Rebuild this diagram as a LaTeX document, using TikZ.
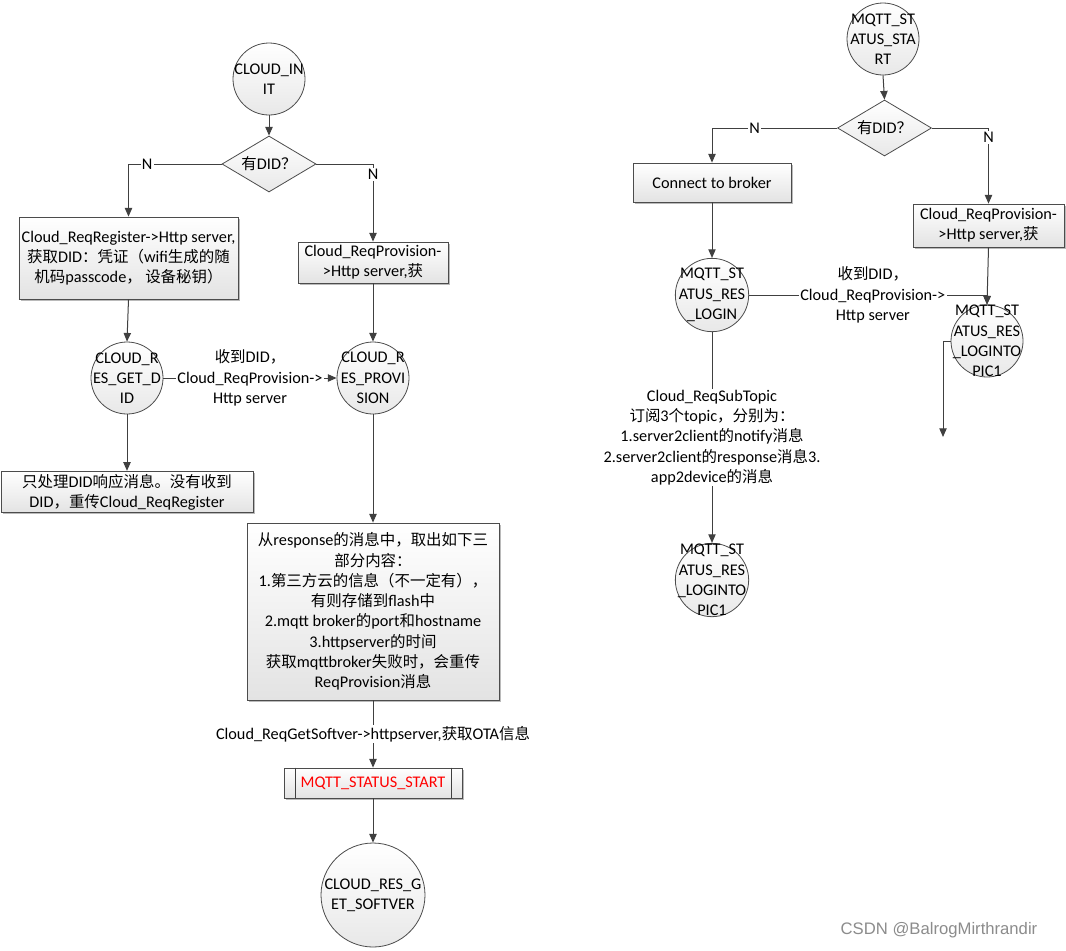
\documentclass[tikz,border=0pt]{standalone}
\usepackage{fontspec}
\setmainfont{Carlito}
\newfontfamily\cjk{Noto Sans CJK SC}[Scale=0.95]
\newfontfamily\wmfont{Liberation Sans}
\usetikzlibrary{arrows.meta,shapes.geometric,shadows,calc}
\newcommand\zh[1]{{\cjk #1}}
\definecolor{lncol}{HTML}{404040}
\tikzset{
  txt/.style={font=\fontsize{12.2}{15.2}\selectfont, align=center, text=black},
  ln/.style={draw=lncol, line width=0.75pt},
  arr/.style={ln, -{Triangle[length=6.5pt,width=5.5pt]}},
  stnode/.style={circle, draw=black!70, line width=0.6pt, top color=white, bottom color=black!9, inner sep=0pt, minimum size=#1},
  boxnode/.style={rectangle, draw=black!70, line width=0.6pt, top color=white, bottom color=black!11,
     drop shadow={shadow xshift=1.2pt, shadow yshift=-1.2pt, fill=black!45, opacity=0.6},
     inner sep=2pt, txt},
  decnode/.style={diamond, draw=black!70, line width=0.6pt, top color=white, bottom color=black!9, inner sep=0pt, minimum width=70.5pt, minimum height=42pt},
  lbl/.style={txt, fill=white, inner sep=1pt},
  inlbl/.style={txt, inner sep=0pt}
}
\begin{document}
\begin{tikzpicture}[x=0.75pt,y=-0.75pt]
\path[use as bounding box, fill=white] (0,0) rectangle (1066,950);

% ---------------- left chart ----------------
\node[stnode=54pt, label={[inlbl]center:CLOUD\_IN\\IT}] (init) at (269,79) {};
\node[decnode, label={[inlbl]center:\zh{有}DID\zh{？}}] (d1) at (269,164) {};
\node[boxnode, minimum width=164.25pt, minimum height=61.5pt] (reg) at (128.5,258)
  {Cloud\_ReqRegister->Http server,\\\zh{获取}DID\zh{：凭证（}wifi\zh{生成的随}\\\zh{机码}passcode\zh{，\ 设备秘钥）}};
\node[boxnode, minimum width=112.5pt, minimum height=30.75pt] (prov1) at (373,262.5)
  {Cloud\_ReqProvision-\\>Http server,\zh{获}};
\node[stnode=54pt, label={[inlbl]center:CLOUD\_R\\ES\_GET\_D\\ID}] (getdid) at (127,378) {};
\node[stnode=54pt, label={[inlbl]center:CLOUD\_R\\ES\_PROVI\\SION}] (resprov) at (373,378) {};
\node[boxnode, minimum width=189pt, minimum height=30pt] (retry) at (127,492)
  {\zh{只处理}DID\zh{响应消息。没有收到}\\DID\zh{，重传}Cloud\_ReqRegister};
\node[boxnode, minimum width=189pt, minimum height=132.75pt] (resp) at (373,611.5)
  {\zh{从}response\zh{的消息中，取出如下三}\\\zh{部分内容：}\\1.\zh{第三方云的信息（不一定有），}\\\zh{有则存储到}flash\zh{中}\\2.mqtt broker\zh{的}port\zh{和}hostname\\3.httpserver\zh{的时间}\\\zh{获取}mqttbroker\zh{失败时，会重传}\\ReqProvision\zh{消息}};
\node[boxnode, minimum width=133.5pt, minimum height=22.5pt, text=red] (mqs) at (373,783) {MQTT\_STATUS\_START};
\draw[ln, line width=0.6pt] ($(mqs.north west)+(12,0)$) -- ($(mqs.south west)+(12,0)$);
\draw[ln, line width=0.6pt] ($(mqs.north east)+(-11,0)$) -- ($(mqs.south east)+(-11,0)$);
\node[stnode=78pt, label={[inlbl]center:CLOUD\_RES\_G\\ET\_SOFTVER}] (softver) at (373,895) {};

\draw[arr] (init.south) -- (d1.north);
\draw[arr] (d1.west) -| node[pos=0.4, lbl]{N} (reg.north);
\draw[arr] (d1.east) -| node[pos=0.565, lbl]{N} (prov1.north);
\draw[arr] (reg.south) -- (getdid.north);
\draw[arr] (prov1.south) -- (resprov.north);
\draw[arr] (getdid.east) -- node[lbl]{\zh{收到}DID\zh{，}\\Cloud\_ReqProvision->\\Http server} (resprov.west);
\draw[arr] (getdid.south) -- (retry.north);
\draw[arr] (resprov.south) -- (resp.north);
\draw[arr] (resp.south) -- node[lbl]{Cloud\_ReqGetSoftver->httpserver,\zh{获取}OTA\zh{信息}} (mqs.north);
\draw[arr] (mqs.south) -- (softver.north);

% ---------------- right chart ----------------
\node[stnode=54pt, label={[inlbl]center:MQTT\_ST\\ATUS\_STA\\RT}] (mstart) at (883,39) {};
\node[decnode, label={[inlbl]center:\zh{有}DID\zh{？}}] (d2) at (884.5,128) {};
\node[boxnode, minimum width=118.5pt, minimum height=29.25pt] (conn) at (712,182.5) {Connect to broker};
\node[boxnode, minimum width=113.25pt, minimum height=32.25pt] (prov2) at (988.5,225.5)
  {Cloud\_ReqProvision-\\>Http server,\zh{获}};
\node[stnode=55pt, label={[inlbl]center:MQTT\_ST\\ATUS\_RES\\\_LOGIN}] (login) at (712,295) {};
\node[stnode=54pt, label={[inlbl]center:MQTT\_ST\\ATUS\_RES\\\_LOGINTO\\PIC1}] (topicA) at (987,341) {};
\node[stnode=55pt, label={[inlbl]center:MQTT\_ST\\ATUS\_RES\\\_LOGINTO\\PIC1}] (topicB) at (712,580) {};
\coordinate (tfree) at (943,437);

\draw[arr] (mstart.south) -- (d2.north);
\draw[arr] (d2.west) -| node[pos=0.33, lbl]{N} (conn.north);
\draw[arr] (d2.east) -| node[pos=0.56, lbl]{N} (prov2.north);
\draw[arr] (conn.south) -- (login.north);
\draw[arr] (prov2.south) -- (topicA.north);
\draw[arr] (login.east) -| node[pos=0.26, lbl]{\zh{收到}DID\zh{，}\\Cloud\_ReqProvision->\\Http server} (topicA.north);
\draw[arr] (topicA.west) -| (tfree);
\draw[arr] (login.south) -- node[lbl]{Cloud\_ReqSubTopic\\\zh{订阅}3\zh{个}topic\zh{，分别为：}\\1.server2client\zh{的}notify\zh{消息}\\2.server2client\zh{的}response\zh{消息}3.\\app2device\zh{的消息}} (topicB.north);

% watermark
\node[font=\wmfont\fontsize{12.5}{14}\selectfont, text=black!45] (wm) at (939,930) {CSDN @BalrogMirthrandir};
\end{tikzpicture}
\end{document}
